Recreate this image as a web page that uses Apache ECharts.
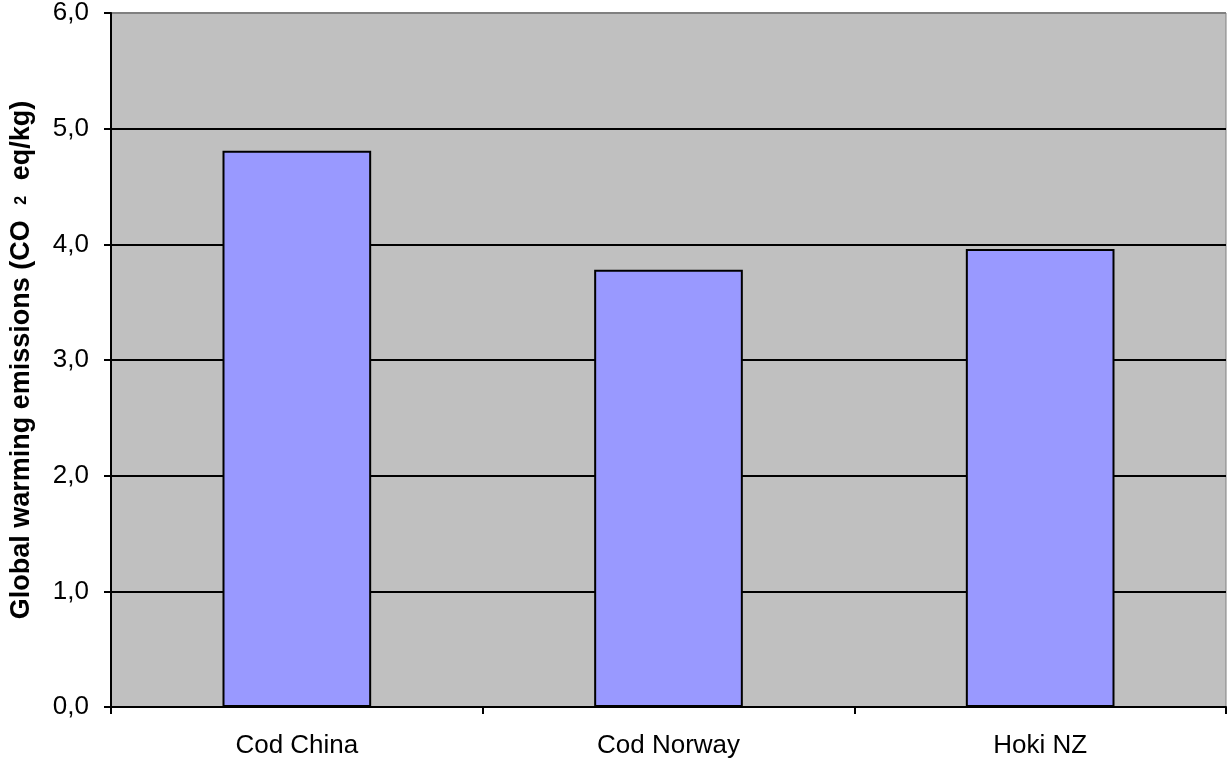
<!DOCTYPE html>
<html>
<head>
<meta charset="utf-8">
<script src="https://cdn.jsdelivr.net/npm/echarts@6/dist/echarts.min.js"></script>
<style>
html,body{margin:0;padding:0;background:#fff;}
#chart{width:1227px;height:765px;}
</style>
</head>
<body>
<div id="chart"></div>
<script>
var categories = ['Cod China', 'Cod Norway', 'Hoki NZ'];
var emissions = [4.81, 3.78, 3.96];
var yMin = 0, yMax = 6, yStep = 1;

var chart = echarts.init(document.getElementById('chart'));
var font = '"Liberation Sans", Arial, sans-serif';
chart.setOption({
  animation: false,
  grid: {
    left: 107.5, right: 1, top: 9.5, bottom: 58,
    show: true, backgroundColor: '#C0C0C0', borderColor: '#808080', borderWidth: 1
  },
  xAxis: {
    type: 'category',
    data: categories,
    boundaryGap: true,
    axisLine: { lineStyle: { color: '#000', width: 2 } },
    axisTick: { show: true, length: 7, lineStyle: { color: '#000', width: 2 } },
    axisLabel: { color: '#000', fontFamily: font, fontSize: 26, margin: 26 }
  },
  yAxis: {
    type: 'value',
    min: yMin, max: yMax, interval: yStep,
    name: '{a|Global warming emissions (CO }{s|2}{a| eq/kg)}',
    nameLocation: 'middle',
    nameGap: 76,
    nameRotate: 90,
    nameTextStyle: {
      rich: {
        a: { fontFamily: font, fontSize: 27, fontWeight: 'bold', color: '#000' },
        s: { fontFamily: font, fontSize: 16, fontWeight: 'bold', color: '#000', padding: [0, 8, 0, 8], verticalAlign: 'middle' }
      }
    },
    axisLine: { show: true, lineStyle: { color: '#000', width: 2 } },
    axisTick: { show: true, length: 7, lineStyle: { color: '#000', width: 2 } },
    axisLabel: {
      color: '#000', fontFamily: font, fontSize: 26, margin: 22,
      formatter: function (v) { return v.toFixed(1).replace('.', ','); }
    },
    splitLine: {
      show: true,
      lineStyle: { color: ['#000', '#000', '#000', '#000', '#000', '#000', '#808080'], width: 2 }
    }
  },
  series: [{
    type: 'bar',
    data: emissions,
    barWidth: '40%',
    itemStyle: { color: '#9999FF', borderColor: '#000', borderWidth: 2 }
  }]
});
</script>
</body>
</html>
